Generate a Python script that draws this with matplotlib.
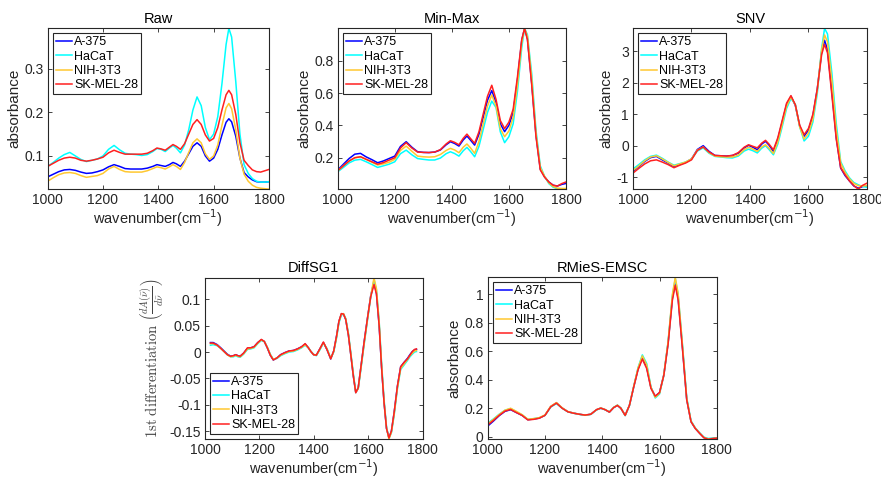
"""
Five preprocessing views of the mean FTIR spectra of four cell lines
(Raw, Min-Max, SNV, DiffSG1, RMieS-EMSC), MATLAB-style panels.

Output: out.png
"""

import matplotlib.pyplot as plt
from matplotlib.ticker import FuncFormatter

OUT_PATH = "out.png"
DPI = 100

CELL_LINES = ["A-375", "HaCaT", "NIH-3T3", "SK-MEL-28"]
COLORS = ["#0000FF", "#00FFFF", "#FFC830", "#FF2020"]

# shared wavenumber grid (cm-1) for Raw / Min-Max / SNV / RMieS-EMSC
wn = [1000, 1020, 1040, 1060, 1080, 1100, 1120, 1140, 1160, 1180,
      1200, 1220, 1240, 1260, 1280, 1300, 1320, 1340, 1360, 1380,
      1395, 1410, 1425, 1440, 1453, 1465, 1480, 1495, 1510, 1525,
      1540, 1555, 1570, 1585, 1600, 1615, 1630, 1645, 1655, 1665,
      1680, 1695, 1710, 1725, 1740, 1755, 1770, 1785, 1800]

# --- Raw -------------------------------------------------------------
raw_a375 = [0.052, 0.058, 0.064, 0.068, 0.069, 0.067, 0.063, 0.060, 0.061, 0.064,
            0.068, 0.075, 0.080, 0.076, 0.071, 0.070, 0.070, 0.070, 0.072, 0.076,
            0.080, 0.078, 0.076, 0.080, 0.085, 0.082, 0.076, 0.088, 0.105, 0.122,
            0.130, 0.122, 0.100, 0.088, 0.095, 0.115, 0.148, 0.177, 0.185, 0.178,
            0.145, 0.095, 0.062, 0.052, 0.045, 0.041, 0.040, 0.040, 0.041]
raw_hacat = [0.076, 0.085, 0.095, 0.103, 0.108, 0.100, 0.092, 0.087, 0.090, 0.093,
             0.100, 0.115, 0.124, 0.114, 0.106, 0.104, 0.103, 0.101, 0.103, 0.110,
             0.117, 0.115, 0.110, 0.118, 0.124, 0.118, 0.107, 0.125, 0.160, 0.205,
             0.235, 0.215, 0.165, 0.137, 0.150, 0.190, 0.265, 0.355, 0.392, 0.372,
             0.270, 0.150, 0.080, 0.060, 0.048, 0.042, 0.040, 0.040, 0.041]
raw_nih = [0.042, 0.050, 0.057, 0.061, 0.062, 0.060, 0.055, 0.051, 0.053, 0.055,
           0.060, 0.070, 0.076, 0.069, 0.064, 0.063, 0.063, 0.063, 0.066, 0.071,
           0.075, 0.073, 0.070, 0.075, 0.080, 0.076, 0.069, 0.085, 0.108, 0.130,
           0.139, 0.130, 0.105, 0.092, 0.100, 0.125, 0.170, 0.210, 0.220, 0.208,
           0.160, 0.095, 0.058, 0.042, 0.033, 0.028, 0.026, 0.025, 0.024]
raw_skmel = [0.076, 0.083, 0.090, 0.095, 0.097, 0.095, 0.090, 0.088, 0.090, 0.093,
             0.097, 0.107, 0.113, 0.108, 0.104, 0.104, 0.104, 0.104, 0.106, 0.112,
             0.118, 0.116, 0.113, 0.120, 0.126, 0.122, 0.115, 0.128, 0.150, 0.172,
             0.183, 0.172, 0.148, 0.134, 0.140, 0.165, 0.205, 0.240, 0.250, 0.240,
             0.195, 0.130, 0.090, 0.078, 0.068, 0.064, 0.063, 0.066, 0.069]

# --- Min-Max ---------------------------------------------------------
mm_a375 = [0.124, 0.160, 0.195, 0.222, 0.227, 0.205, 0.188, 0.169, 0.180, 0.195,
           0.210, 0.270, 0.299, 0.265, 0.237, 0.233, 0.232, 0.235, 0.248, 0.280,
           0.299, 0.288, 0.272, 0.310, 0.334, 0.310, 0.278, 0.345, 0.450, 0.555,
           0.615, 0.540, 0.410, 0.361, 0.400, 0.480, 0.680, 0.925, 1.000, 0.935,
           0.660, 0.340, 0.130, 0.082, 0.050, 0.030, 0.025, 0.035, 0.041]
mm_hacat = [0.113, 0.140, 0.168, 0.185, 0.190, 0.175, 0.158, 0.140, 0.150, 0.160,
            0.175, 0.225, 0.247, 0.218, 0.195, 0.190, 0.186, 0.186, 0.198, 0.225,
            0.237, 0.226, 0.210, 0.243, 0.264, 0.240, 0.206, 0.270, 0.375, 0.480,
            0.550, 0.510, 0.360, 0.293, 0.330, 0.410, 0.610, 0.880, 1.000, 0.960,
            0.720, 0.370, 0.150, 0.085, 0.040, 0.018, 0.008, 0.006, 0.006]
mm_nih = [0.118, 0.150, 0.180, 0.200, 0.206, 0.190, 0.172, 0.155, 0.162, 0.172,
          0.190, 0.245, 0.272, 0.240, 0.210, 0.206, 0.204, 0.206, 0.220, 0.245,
          0.258, 0.248, 0.231, 0.265, 0.285, 0.262, 0.227, 0.300, 0.410, 0.520,
          0.588, 0.520, 0.380, 0.330, 0.365, 0.450, 0.650, 0.910, 1.000, 0.950,
          0.690, 0.350, 0.140, 0.085, 0.045, 0.022, 0.012, 0.010, 0.010]
mm_skmel = [0.120, 0.150, 0.180, 0.200, 0.206, 0.190, 0.175, 0.160, 0.170, 0.185,
            0.200, 0.260, 0.293, 0.260, 0.235, 0.233, 0.232, 0.235, 0.250, 0.285,
            0.305, 0.295, 0.280, 0.320, 0.346, 0.320, 0.289, 0.360, 0.470, 0.580,
            0.648, 0.560, 0.430, 0.380, 0.420, 0.500, 0.700, 0.930, 1.000, 0.930,
            0.650, 0.330, 0.125, 0.080, 0.050, 0.030, 0.025, 0.040, 0.050]

# --- SNV -------------------------------------------------------------
snv_a375 = [-0.82, -0.66, -0.50, -0.38, -0.34, -0.45, -0.55, -0.66, -0.60, -0.53,
            -0.42, -0.12, 0.00, -0.18, -0.31, -0.32, -0.33, -0.31, -0.24, -0.07,
            0.01, -0.05, -0.13, 0.05, 0.14, 0.02, -0.18, 0.20, 0.75, 1.30,
            1.57, 1.28, 0.62, 0.30, 0.50, 0.95, 1.80, 2.98, 3.35, 3.05,
            1.70, 0.25, -0.71, -0.95, -1.12, -1.28, -1.35, -1.30, -1.27]
snv_hacat = [-0.74, -0.60, -0.45, -0.34, -0.30, -0.40, -0.52, -0.62, -0.57, -0.52,
             -0.43, -0.17, -0.07, -0.24, -0.34, -0.36, -0.38, -0.39, -0.33, -0.17,
             -0.11, -0.16, -0.23, -0.08, 0.00, -0.12, -0.29, 0.05, 0.60, 1.18,
             1.50, 1.32, 0.60, 0.15, 0.30, 0.75, 1.65, 3.10, 3.73, 3.55,
             2.30, 0.70, -0.50, -0.80, -1.02, -1.17, -1.24, -1.30, -1.32]
snv_nih = [-0.79, -0.64, -0.48, -0.36, -0.32, -0.42, -0.53, -0.64, -0.58, -0.52,
           -0.42, -0.14, -0.04, -0.22, -0.33, -0.35, -0.36, -0.36, -0.30, -0.13,
           -0.05, -0.11, -0.18, -0.04, 0.03, -0.08, -0.25, 0.12, 0.68, 1.25,
           1.55, 1.30, 0.60, 0.21, 0.40, 0.85, 1.75, 3.05, 3.52, 3.30,
           2.05, 0.50, -0.55, -0.85, -1.05, -1.20, -1.27, -1.28, -1.27]
snv_skmel = [-0.87, -0.72, -0.58, -0.48, -0.45, -0.52, -0.60, -0.70, -0.62, -0.55,
             -0.45, -0.15, -0.04, -0.20, -0.31, -0.32, -0.33, -0.31, -0.22, -0.05,
             0.03, -0.02, -0.07, 0.08, 0.17, 0.05, -0.13, 0.25, 0.80, 1.35,
             1.59, 1.30, 0.65, 0.35, 0.55, 1.00, 1.80, 2.90, 3.22, 2.95,
             1.60, 0.20, -0.70, -0.92, -1.12, -1.27, -1.38, -1.26, -1.19]

# --- RMieS-EMSC ------------------------------------------------------
emsc_a375 = [0.075, 0.110, 0.148, 0.178, 0.190, 0.170, 0.150, 0.120, 0.124, 0.131,
             0.151, 0.212, 0.238, 0.202, 0.176, 0.166, 0.158, 0.152, 0.158, 0.190,
             0.201, 0.190, 0.173, 0.205, 0.220, 0.200, 0.150, 0.222, 0.352, 0.475,
             0.555, 0.490, 0.345, 0.283, 0.310, 0.435, 0.660, 0.975, 1.080, 0.975,
             0.630, 0.262, 0.106, 0.058, 0.025, -0.006, -0.016, -0.012, -0.010]
emsc_hacat = [0.095, 0.125, 0.158, 0.186, 0.198, 0.176, 0.154, 0.122, 0.127, 0.133,
              0.150, 0.208, 0.233, 0.200, 0.175, 0.165, 0.157, 0.151, 0.157, 0.188,
              0.200, 0.190, 0.174, 0.206, 0.222, 0.202, 0.148, 0.218, 0.352, 0.485,
              0.575, 0.515, 0.350, 0.272, 0.300, 0.430, 0.665, 0.990, 1.110, 1.000,
              0.650, 0.275, 0.112, 0.062, 0.028, -0.003, -0.012, -0.010, -0.008]
emsc_nih = [0.090, 0.122, 0.156, 0.186, 0.200, 0.178, 0.155, 0.123, 0.127, 0.134,
            0.153, 0.214, 0.240, 0.203, 0.177, 0.166, 0.158, 0.152, 0.158, 0.190,
            0.202, 0.191, 0.174, 0.206, 0.222, 0.201, 0.150, 0.222, 0.355, 0.482,
            0.568, 0.505, 0.348, 0.277, 0.305, 0.435, 0.670, 1.000, 1.120, 1.005,
            0.645, 0.268, 0.108, 0.060, 0.026, -0.005, -0.015, -0.012, -0.010]
emsc_skmel = [0.083, 0.115, 0.150, 0.180, 0.192, 0.170, 0.150, 0.118, 0.122, 0.130,
              0.150, 0.210, 0.236, 0.200, 0.175, 0.165, 0.158, 0.152, 0.158, 0.190,
              0.201, 0.190, 0.173, 0.205, 0.220, 0.200, 0.150, 0.220, 0.350, 0.470,
              0.545, 0.480, 0.340, 0.285, 0.310, 0.430, 0.650, 0.960, 1.064, 0.960,
              0.620, 0.260, 0.106, 0.058, 0.024, -0.007, -0.018, -0.013, -0.010]

# --- DiffSG1 (own grid, trimmed edges) -------------------------------
wn_d = [1020, 1030, 1045, 1060, 1070, 1082, 1094, 1104, 1113, 1121,
        1129, 1142, 1156, 1168, 1180, 1194, 1207, 1218, 1229, 1240,
        1251, 1265, 1278, 1294, 1309, 1325, 1340, 1355, 1368, 1380,
        1389, 1399, 1409, 1422, 1435, 1448, 1462, 1473, 1484, 1492,
        1501, 1509, 1517, 1527, 1536, 1545, 1554, 1563, 1572, 1585,
        1597, 1609, 1621, 1630, 1640, 1649, 1658, 1667, 1676, 1685,
        1695, 1707, 1719, 1731, 1744, 1753, 1762, 1770, 1777]
d1_a375 = [0.018, 0.018, 0.014, 0.007, 0.002, -0.004, -0.008, -0.007, -0.005, -0.007,
           -0.008, -0.002, 0.007, 0.008, 0.010, 0.018, 0.023, 0.020, 0.008, -0.006,
           -0.015, -0.011, -0.005, -0.001, 0.002, 0.003, 0.006, 0.010, 0.015, 0.008,
           0.001, -0.005, -0.006, 0.006, 0.018, 0.005, -0.013, 0.002, 0.032, 0.058,
           0.072, 0.072, 0.062, 0.032, -0.006, -0.045, -0.077, -0.068, -0.032, 0.020,
           0.064, 0.107, 0.133, 0.112, 0.050, -0.030, -0.096, -0.145, -0.163, -0.150,
           -0.115, -0.065, -0.028, -0.020, -0.012, -0.005, 0.001, 0.004, 0.005]
d1_hacat = [0.013, 0.014, 0.012, 0.006, 0.001, -0.005, -0.009, -0.009, -0.007, -0.009,
            -0.010, -0.004, 0.005, 0.006, 0.008, 0.016, 0.022, 0.020, 0.009, -0.004,
            -0.014, -0.012, -0.007, -0.003, 0.000, 0.001, 0.004, 0.008, 0.013, 0.008,
            0.001, -0.004, -0.007, 0.004, 0.017, 0.007, -0.012, 0.000, 0.028, 0.055,
            0.070, 0.072, 0.064, 0.036, -0.002, -0.041, -0.075, -0.070, -0.036, 0.015,
            0.060, 0.104, 0.137, 0.118, 0.058, -0.022, -0.090, -0.142, -0.164, -0.153,
            -0.120, -0.070, -0.033, -0.025, -0.016, -0.009, -0.004, 0.000, 0.001]
d1_nih = [0.016, 0.016, 0.013, 0.006, 0.001, -0.005, -0.009, -0.008, -0.006, -0.008,
          -0.009, -0.003, 0.006, 0.007, 0.009, 0.017, 0.023, 0.020, 0.009, -0.005,
          -0.014, -0.011, -0.006, -0.002, 0.001, 0.002, 0.005, 0.009, 0.014, 0.008,
          0.001, -0.005, -0.006, 0.005, 0.018, 0.006, -0.012, 0.001, 0.030, 0.057,
          0.072, 0.073, 0.063, 0.034, -0.004, -0.043, -0.077, -0.069, -0.034, 0.017,
          0.062, 0.106, 0.141, 0.120, 0.056, -0.026, -0.094, -0.144, -0.165, -0.152,
          -0.118, -0.068, -0.031, -0.023, -0.014, -0.007, -0.002, 0.002, 0.003]
d1_skmel = [0.017, 0.017, 0.013, 0.006, 0.001, -0.005, -0.008, -0.007, -0.005, -0.007,
            -0.008, -0.002, 0.008, 0.008, 0.010, 0.018, 0.024, 0.020, 0.008, -0.006,
            -0.015, -0.011, -0.005, -0.001, 0.002, 0.003, 0.006, 0.010, 0.016, 0.008,
            0.001, -0.005, -0.006, 0.006, 0.019, 0.005, -0.013, 0.002, 0.032, 0.058,
            0.073, 0.072, 0.062, 0.032, -0.006, -0.045, -0.077, -0.068, -0.032, 0.020,
            0.064, 0.105, 0.128, 0.110, 0.050, -0.030, -0.096, -0.145, -0.163, -0.150,
            -0.115, -0.065, -0.028, -0.020, -0.013, -0.006, 0.001, 0.005, 0.006]

XLABEL = r"wavenumber(cm$^{-1}$)"
DIFF_YLABEL = (r"$\mathrm{1st\ differentiation}\ "
               r"\left(\frac{dA(\bar{\nu})}{d\bar{\nu}}\right)$")
AX_COLOR = "#262626"

# panel title, x grid, series, y ticks, legend corner, axes rect (fig fraction)
PANELS = [
    ("Raw", wn, [raw_a375, raw_hacat, raw_nih, raw_skmel],
     [0.1, 0.2, 0.3], "upper left", [0.0541, 0.606, 0.2512, 0.335]),
    ("Min-Max", wn, [mm_a375, mm_hacat, mm_nih, mm_skmel],
     [0.2, 0.4, 0.6, 0.8], "upper left", [0.3833, 0.606, 0.2591, 0.335]),
    ("SNV", wn, [snv_a375, snv_hacat, snv_nih, snv_skmel],
     [-1, 0, 1, 2, 3], "upper left", [0.7185, 0.606, 0.2656, 0.335]),
    ("DiffSG1", wn_d, [d1_a375, d1_hacat, d1_nih, d1_skmel],
     [-0.15, -0.1, -0.05, 0, 0.05, 0.1], "lower left", [0.2327, 0.0854, 0.2471, 0.336]),
    ("RMieS-EMSC", wn, [emsc_a375, emsc_hacat, emsc_nih, emsc_skmel],
     [0, 0.2, 0.4, 0.6, 0.8, 1], "upper left", [0.5536, 0.0848, 0.2600, 0.3375]),
]


def main() -> None:
    plt.rcParams["font.family"] = ["Liberation Sans", "DejaVu Sans"]
    plt.rcParams["axes.linewidth"] = 0.8
    fig = plt.figure(figsize=(881 / DPI, 480 / DPI), dpi=DPI)
    fmt = FuncFormatter(lambda v, _: f"{v:g}")

    for title, x, series, yticks, loc, rect in PANELS:
        ax = fig.add_axes(rect)
        for vals, name, col in zip(series, CELL_LINES, COLORS):
            ax.plot(x, vals, color=col, linewidth=1.1, label=name)
        ax.set_xlim(1000, 1800)
        lo = min(min(v) for v in series)
        hi = max(max(v) for v in series)
        ax.set_ylim(lo, hi)
        ax.set_xticks([1000, 1200, 1400, 1600, 1800])
        ax.set_yticks(yticks)
        ax.yaxis.set_major_formatter(fmt)
        ax.tick_params(direction="in", top=True, right=True, length=3,
                       width=0.6, labelsize=10, colors=AX_COLOR, pad=3)
        for sp in ax.spines.values():
            sp.set_color(AX_COLOR)
        ax.set_title(title, fontsize=10.5, color="black", pad=4)
        ax.set_xlabel(XLABEL, fontsize=10.5, color=AX_COLOR, labelpad=0)
        if title == "DiffSG1":
            ax.set_ylabel(DIFF_YLABEL, fontsize=10.5, color="#404040",
                          math_fontfamily="cm", labelpad=2)
        else:
            ax.set_ylabel("absorbance", fontsize=11, color=AX_COLOR, labelpad=2)
        leg = ax.legend(loc=loc, fontsize=9, frameon=True, fancybox=False,
                        handlelength=1.3, handletextpad=0.15, labelspacing=0.18,
                        borderpad=0.25, borderaxespad=0.4)
        leg.get_frame().set_edgecolor(AX_COLOR)
        leg.get_frame().set_linewidth(0.8)
        leg.get_frame().set_alpha(1.0)

    fig.savefig(OUT_PATH, dpi=DPI)
    plt.close(fig)
    print(f"wrote {OUT_PATH}")


if __name__ == "__main__":
    main()
